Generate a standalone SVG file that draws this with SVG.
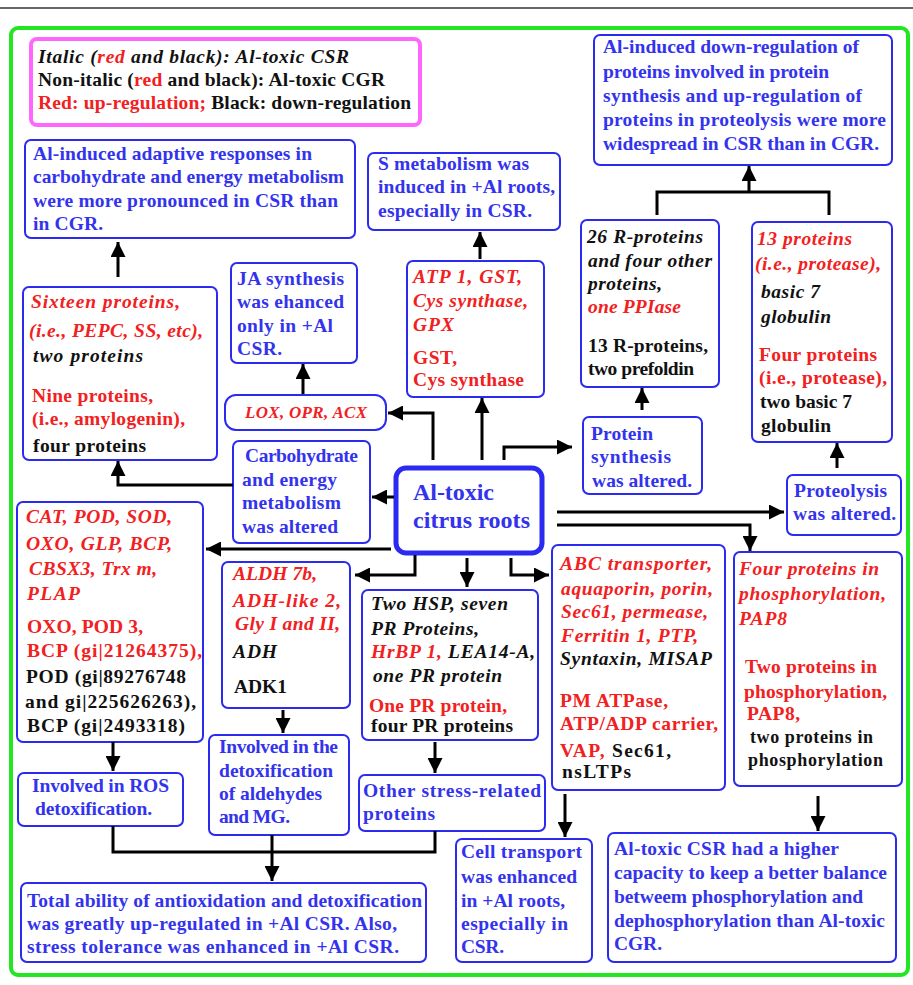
<svg xmlns="http://www.w3.org/2000/svg" width="913" height="985" viewBox="0 0 913 985">
<defs>
<marker id="ah" viewBox="0 0 15 15" refX="15" refY="7.5" markerWidth="15" markerHeight="15" orient="auto" markerUnits="userSpaceOnUse"><path d="M0,0 L15,7.5 L0,15 z" fill="#000"/></marker>
<style>
text{font-family:"Liberation Serif","Times New Roman",serif;font-weight:bold;font-size:19.5px;}
.b{fill:#3333ee;}
.r{fill:#f22020;}
.k{fill:#111;}
.i{font-style:italic;}
.box{fill:#fff;stroke:#2a2af0;stroke-width:2;}
.con{fill:none;stroke:#000;stroke-width:3;marker-end:url(#ah);}
.ln{fill:none;stroke:#000;stroke-width:3;}
</style>
</defs>
<rect width="913" height="985" fill="#fff"/>
<line x1="0" y1="8" x2="913" y2="8" stroke="#333" stroke-width="1.5"/>
<rect x="11" y="28" width="897" height="947" rx="7" fill="none" stroke="#22e622" stroke-width="4"/>

<g id="legend">
<rect x="31" y="39" width="389" height="86" rx="6" fill="#fff" stroke="#ff66ff" stroke-width="4"/>
<text x="38" y="63" class="k i" textLength="311">Italic (<tspan class="r">red</tspan> and black): Al-toxic CSR</text>
<text x="38" y="86" class="k" textLength="347">Non-italic (<tspan class="r">red</tspan> and black): Al-toxic CGR</text>
<text x="38" y="109" class="r" textLength="373">Red: up-regulation; <tspan class="k">Black: down-regulation</tspan></text>
</g>

<g id="carb-result">
<rect class="box" x="25" y="140" width="330" height="98" rx="6"/>
<text class="b" x="33" y="160" textLength="279">Al-induced adaptive responses  in</text>
<text class="b" x="33" y="183" textLength="311">carbohydrate and energy metabolism</text>
<text class="b" x="33" y="207" textLength="305">were more pronounced in CSR than</text>
<text class="b" x="33" y="230" textLength="70">in CGR.</text>
</g>

<g id="sixteen">
<rect class="box" x="23" y="287" width="194" height="173" rx="6"/>
<text class="r i" x="31" y="308" textLength="149">Sixteen proteins,</text>
<text class="r i" x="29" y="337" textLength="174">(i.e., PEPC, SS, etc),</text>
<text class="k i" x="33" y="362" textLength="110">two proteins</text>
<text class="r" x="32" y="402" textLength="121">Nine proteins,</text>
<text class="r" x="32" y="425" textLength="153">(i.e., amylogenin),</text>
<text class="k" x="33" y="452" textLength="113">four proteins</text>
</g>

<g id="ja">
<rect class="box" x="231" y="263" width="126" height="100" rx="6"/>
<text class="b" x="237" y="285" textLength="107">JA synthesis</text>
<text class="b" x="237" y="308" textLength="107">was ehanced</text>
<text class="b" x="237" y="332" textLength="96">only in +Al</text>
<text class="b" x="237" y="355" textLength="45">CSR.</text>
</g>

<g id="lox">
<rect class="box" x="225" y="395" width="161" height="35" rx="11"/>
<text class="r i" x="245" y="418" textLength="122" style="font-size:17px">LOX, OPR, ACX</text>
</g>

<g id="carb">
<rect class="box" x="233" y="441" width="137" height="102" rx="6"/>
<text class="b" x="245" y="462" textLength="113">Carbohydrate</text>
<text class="b" x="242" y="486" textLength="95">and energy</text>
<text class="b" x="242" y="509" textLength="99">metabolism</text>
<text class="b" x="242" y="533" textLength="96">was altered</text>
</g>

<g id="central">
<rect x="396" y="468" width="146" height="85" rx="10" fill="#fff" stroke="#2a2af0" stroke-width="5"/>
<text class="b" x="413" y="500" textLength="81" style="font-size:24px">Al-toxic</text>
<text class="b" x="413" y="528" textLength="117" style="font-size:24px">citrus roots</text>
</g>

<g id="smet">
<rect class="box" x="368" y="153" width="192" height="77" rx="6"/>
<text class="b" x="378" y="170" textLength="151">S metabolism was</text>
<text class="b" x="378" y="193" textLength="177">induced in +Al roots,</text>
<text class="b" x="378" y="217" textLength="154">especially in CSR.</text>
</g>

<g id="atp">
<rect class="box" x="407" y="261" width="137" height="136" rx="6"/>
<text class="r i" x="413" y="283" textLength="109">ATP 1, GST,</text>
<text class="r i" x="413" y="307" textLength="115">Cys synthase,</text>
<text class="r i" x="413" y="331" textLength="41">GPX</text>
<text class="r" x="413" y="364" textLength="44">GST,</text>
<text class="r" x="413" y="386" textLength="111">Cys synthase</text>
</g>

<g id="prot-result">
<rect class="box" x="594" y="35" width="298" height="130" rx="6"/>
<text class="b" x="603" y="53" textLength="256">Al-induced down-regulation of</text>
<text class="b" x="603" y="78" textLength="226">proteins involved in protein</text>
<text class="b" x="603" y="102" textLength="259">synthesis  and up-regulation of</text>
<text class="b" x="603" y="126" textLength="283">proteins in proteolysis were more</text>
<text class="b" x="603" y="150" textLength="276">widespread in CSR than in CGR.</text>
</g>

<g id="rprot">
<rect class="box" x="581" y="220" width="138" height="167" rx="6"/>
<text class="k i" x="587" y="243" textLength="116">26 R-proteins</text>
<text class="k i" x="588" y="267" textLength="124">and four other</text>
<text class="k i" x="588" y="290" textLength="74">proteins,</text>
<text class="r i" x="588" y="313" textLength="93">one PPIase</text>
<text class="k" x="588" y="352" textLength="120">13 R-proteins,</text>
<text class="k" x="588" y="375" textLength="106">two prefoldin</text>
</g>

<g id="protease">
<rect class="box" x="752" y="222" width="140" height="220" rx="6"/>
<text class="r i" x="757" y="245" textLength="95">13 proteins</text>
<text class="r i" x="755" y="270" textLength="126">(i.e., protease),</text>
<text class="k i" x="761" y="298" textLength="59">basic 7</text>
<text class="k i" x="761" y="323" textLength="70">globulin</text>
<text class="r" x="759" y="361" textLength="118">Four proteins</text>
<text class="r" x="759" y="384" textLength="128">(i.e., protease),</text>
<text class="k" x="760" y="408" textLength="92">two basic 7</text>
<text class="k" x="761" y="432" textLength="70">globulin</text>
</g>

<g id="psyn">
<rect class="box" x="583" y="417" width="119" height="77" rx="6"/>
<text class="b" x="591" y="440" textLength="62">Protein</text>
<text class="b" x="591" y="463" textLength="80">synthesis</text>
<text class="b" x="592" y="487" textLength="100">was altered.</text>
</g>

<g id="proteolysis">
<rect class="box" x="787" y="475" width="114" height="60" rx="6"/>
<text class="b" x="794" y="497" textLength="93">Proteolysis</text>
<text class="b" x="793" y="520" textLength="103">was altered.</text>
</g>

<g id="cat">
<rect class="box" x="17" y="502" width="186" height="240" rx="6"/>
<text class="r i" x="26" y="523" textLength="146">CAT, POD, SOD,</text>
<text class="r i" x="26" y="550" textLength="146">OXO, GLP, BCP,</text>
<text class="r i" x="29" y="575" textLength="128">CBSX3, Trx m,</text>
<text class="r i" x="27" y="600" textLength="53">PLAP</text>
<text class="r" x="27" y="633" textLength="116">OXO, POD 3,</text>
<text class="r" x="27" y="657" textLength="175">BCP (gi|21264375),</text>
<text class="k" x="26" y="683" textLength="160">POD (gi|89276748</text>
<text class="k" x="25" y="708" textLength="171">and gi|225626263),</text>
<text class="k" x="27" y="732" textLength="158">BCP (gi|2493318)</text>
</g>

<g id="aldh">
<rect class="box" x="222" y="562" width="128" height="146" rx="6"/>
<text class="r i" x="233" y="580" textLength="84">ALDH 7b,</text>
<text class="r i" x="233" y="607" textLength="108">ADH-like  2,</text>
<text class="r i" x="235" y="630" textLength="105">Gly I and II,</text>
<text class="k i" x="233" y="658" textLength="44">ADH</text>
<text class="k" x="234" y="693" textLength="53">ADK1</text>
</g>

<g id="hsp">
<rect class="box" x="362" y="590" width="176" height="150" rx="6"/>
<text class="k i" x="371" y="610" textLength="137">Two HSP, seven</text>
<text class="k i" x="371" y="635" textLength="108">PR Proteins,</text>
<text class="k i" x="371" y="658" textLength="164"><tspan class="r">HrBP 1,</tspan> LEA14-A,</text>
<text class="k i" x="373" y="682" textLength="129">one PR protein</text>
<text class="r" x="369" y="712" textLength="138">One PR protein,</text>
<text class="k" x="371" y="732" textLength="142">four PR proteins</text>
</g>

<g id="abc">
<rect class="box" x="552" y="545" width="173" height="245" rx="6"/>
<text class="r i" x="560" y="570" textLength="152">ABC transporter,</text>
<text class="r i" x="561" y="595" textLength="152">aquaporin, porin,</text>
<text class="r i" x="561" y="618" textLength="147">Sec61, permease,</text>
<text class="r i" x="561" y="642" textLength="137">Ferritin 1, PTP,</text>
<text class="k i" x="560" y="665" textLength="152">Syntaxin, MISAP</text>
<text class="r" x="560" y="707" textLength="108">PM ATPase,</text>
<text class="r" x="560" y="730" textLength="158">ATP/ADP carrier,</text>
<text class="r" x="560" y="757" textLength="111">VAP, <tspan class="k">Sec61,</tspan></text>
<text class="k" x="562" y="778" textLength="69">nsLTPs</text>
</g>

<g id="phos">
<rect class="box" x="734" y="552" width="168" height="234" rx="6"/>
<text class="r i" x="739" y="575" textLength="140">Four proteins in</text>
<text class="r i" x="739" y="600" textLength="147">phosphorylation,</text>
<text class="r i" x="739" y="625" textLength="48">PAP8</text>
<text class="r" x="745" y="673" textLength="132">Two proteins in</text>
<text class="r" x="744" y="698" textLength="143">phosphorylation,</text>
<text class="r" x="747" y="720" textLength="53">PAP8,</text>
<text class="k" x="750" y="743" textLength="123" style="font-size:18px">two proteins in</text>
<text class="k" x="748" y="766" textLength="135" style="font-size:18px">phosphorylation</text>
</g>

<g id="ros">
<rect class="box" x="18" y="773" width="165" height="53" rx="6"/>
<text class="b" x="32" y="792" textLength="137">Involved in ROS</text>
<text class="b" x="35" y="815" textLength="117">detoxification.</text>
</g>

<g id="ald-det">
<rect class="box" x="209" y="735" width="140" height="100" rx="6"/>
<text class="b" x="219" y="753" textLength="119">Involved in the</text>
<text class="b" x="219" y="777" textLength="114">detoxification</text>
<text class="b" x="219" y="800" textLength="103">of aldehydes</text>
<text class="b" x="219" y="823" textLength="71">and MG.</text>
</g>

<g id="other">
<rect class="box" x="359" y="775" width="186" height="56" rx="6"/>
<text class="b" x="363" y="797" textLength="178">Other stress-related</text>
<text class="b" x="363" y="820" textLength="72">proteins</text>
</g>

<g id="total">
<rect class="box" x="21" y="883" width="405" height="79" rx="6"/>
<text class="b" x="27" y="907" textLength="395">Total ability of antioxidation and detoxification</text>
<text class="b" x="27" y="930" textLength="370">was greatly up-regulated in +Al CSR. Also,</text>
<text class="b" x="27" y="953" textLength="372">stress tolerance was enhanced in +Al CSR.</text>
</g>

<g id="transport">
<rect class="box" x="456" y="839" width="136" height="123" rx="6"/>
<text class="b" x="461" y="858" textLength="121">Cell transport</text>
<text class="b" x="461" y="883" textLength="116">was enhanced</text>
<text class="b" x="461" y="907" textLength="104">in +Al roots,</text>
<text class="b" x="461" y="930" textLength="107">especially in</text>
<text class="b" x="461" y="953" textLength="43">CSR.</text>
</g>

<g id="balance">
<rect class="box" x="608" y="833" width="288" height="129" rx="6"/>
<text class="b" x="614" y="855" textLength="225">Al-toxic CSR had a higher</text>
<text class="b" x="614" y="879" textLength="273">capacity to keep a better balance</text>
<text class="b" x="614" y="903" textLength="249">betweem phosphorylation and</text>
<text class="b" x="614" y="927" textLength="271">dephosphorylation than Al-toxic</text>
<text class="b" x="614" y="950" textLength="48">CGR.</text>
</g>

<g id="connectors">
<path class="con" d="M118,277 V242"/>
<path class="con" d="M233,485 H118 V461"/>
<path class="con" d="M303,394 V364"/>
<path class="con" d="M433,460 V413 H388"/>
<path class="con" d="M482,460 V398"/>
<path class="con" d="M480,259 V232"/>
<path class="con" d="M504,460 V447 H572"/>
<path class="con" d="M642,410 V388"/>
<path class="ln" d="M657,215 V192 H829 V215"/>
<path class="con" d="M749,193 V166"/>
<path class="con" d="M837,468 V443"/>
<path class="con" d="M557,512 H784"/>
<path class="con" d="M557,525 H750 V551"/>
<path class="con" d="M391,549 H206"/>
<path class="con" d="M394,497 H372"/>
<path class="con" d="M415,555 V575 H355"/>
<path class="con" d="M467,558 V587"/>
<path class="con" d="M511,558 V575 H549"/>
<path class="con" d="M113,742 V771"/>
<path class="con" d="M283,710 V733"/>
<path class="con" d="M435,742 V773"/>
<path class="ln" d="M113,826 V852 H435 V831"/>
<path class="con" d="M272,835 V881"/>
<path class="con" d="M565,794 V837"/>
<path class="con" d="M818,796 V831"/>
</g>
</svg>
